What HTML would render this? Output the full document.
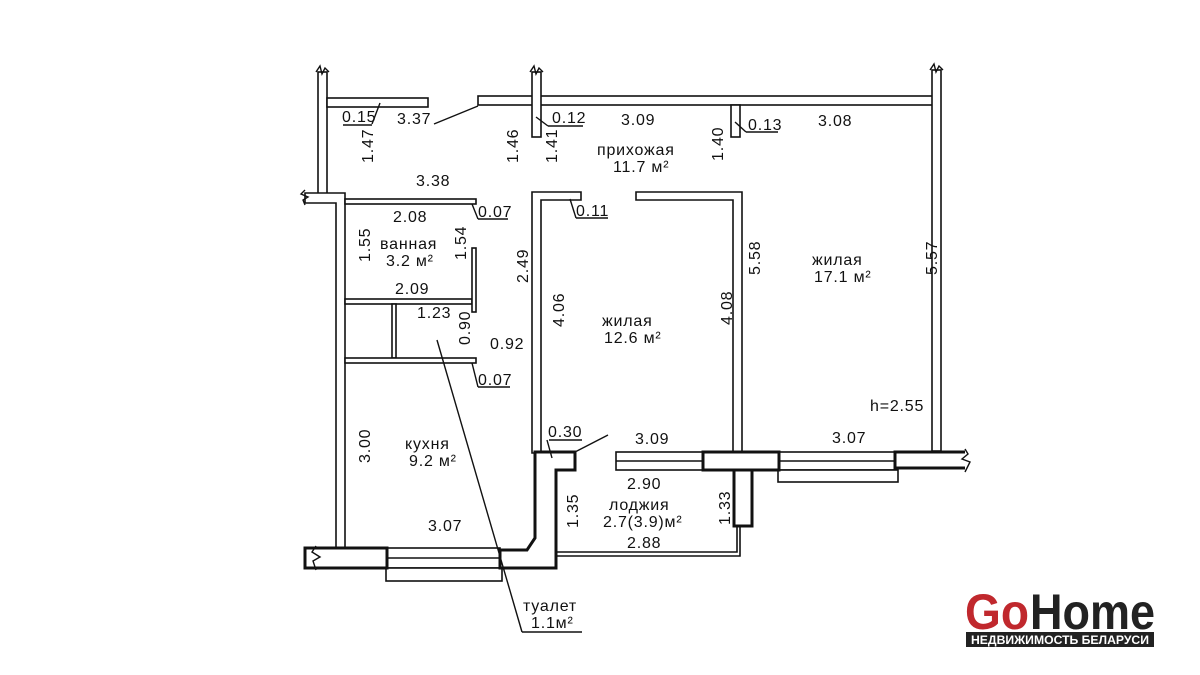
<!DOCTYPE html>
<html><head><meta charset="utf-8"><style>
html,body{margin:0;padding:0;background:#fff;}
svg{display:block;}
text{font-family:"Liberation Sans","DejaVu Sans",sans-serif;font-size:16px;fill:#111;letter-spacing:0.8px;}
</style></head><body>
<svg width="1200" height="675" viewBox="0 0 1200 675" xmlns="http://www.w3.org/2000/svg">
<g fill="#fff" stroke="#111" stroke-width="1.6">
<rect x="318" y="72" width="9" height="124"/>
<rect x="327" y="98" width="101" height="9"/>
<rect x="478" y="96" width="460" height="9"/>
<rect x="532" y="72" width="9" height="65"/>
<rect x="731" y="105" width="9" height="32"/>
<rect x="932" y="70" width="9" height="381"/>
<path d="M305 193 H345 V548 H336 V203 H305 Z"/>
<rect x="345" y="199" width="131" height="5"/>
<rect x="345" y="299" width="127" height="5"/>
<rect x="472" y="248" width="4" height="64"/>
<rect x="392" y="304" width="4" height="54"/>
<rect x="345" y="358" width="131" height="5"/>
<path d="M532 192 H581 V200 H541 V453 H532 Z"/>
<path d="M636 192 H742 V452 H733 V200 H636 Z"/>
<path d="M556 552 H737 V527" fill="none"/>
<path d="M556 556 H740 V527" fill="none"/>
<rect x="387" y="548" width="113" height="20"/>
<line x1="387" y1="558" x2="500" y2="558"/>
<rect x="386" y="568" width="116" height="13"/>
<rect x="616" y="452" width="87" height="18"/>
<line x1="616" y1="461" x2="703" y2="461"/>
<rect x="779" y="452" width="116" height="18"/>
<line x1="779" y1="461" x2="895" y2="461"/>
<rect x="778" y="470" width="120" height="12"/>
</g>
<g fill="#fff" stroke="#111" stroke-width="3">
<rect x="305" y="548" width="82" height="20"/>
<path d="M535 452 H575 V470 H556 V568 H500 V550 H527 L535 538 Z"/>
<rect x="703" y="452" width="76" height="18"/>
<rect x="734" y="470" width="18" height="56"/>
<path d="M965 452 H895 V468 H965"/>
</g>
<g fill="none" stroke="#111" stroke-width="1.4">
<path d="M316 72 L320 66 L322 74 L325 68 L329 72"/>
<path d="M530 72 L534 66 L536 74 L539 68 L543 72"/>
<path d="M930 70 L934 64 L936 72 L939 66 L943 70"/>
<path d="M305 190 L301 194 L308 197 L303 200 L305 205"/>
<path d="M316 546 L312 552 L320 557 L313 561 L316 570"/>
<path d="M965 449 L968 454 L962 459 L970 462 L965 472"/>
<line x1="380" y1="103" x2="372" y2="124"/><line x1="343" y1="125" x2="372" y2="125"/>
<line x1="434" y1="124" x2="478" y2="106"/>
<line x1="536" y1="117" x2="548" y2="126"/><line x1="548" y1="126" x2="583" y2="126"/>
<line x1="735" y1="122" x2="746" y2="132"/><line x1="746" y1="132" x2="778" y2="132"/>
<line x1="570" y1="199" x2="576" y2="218"/><line x1="576" y1="218" x2="608" y2="218"/>
<line x1="472" y1="204" x2="478" y2="219"/><line x1="478" y1="219" x2="508" y2="219"/>
<line x1="472" y1="363" x2="478" y2="387"/><line x1="478" y1="387" x2="510" y2="387"/>
<line x1="437" y1="340" x2="522" y2="632"/><line x1="522" y1="632" x2="582" y2="632"/>
<line x1="549" y1="440" x2="582" y2="440"/><line x1="547" y1="440" x2="552" y2="458"/>
<line x1="575" y1="452" x2="608" y2="435"/>
</g>
<g>
<text x="342" y="122">0.15</text>
<text x="397" y="124">3.37</text>
<text x="552" y="123">0.12</text>
<text x="621" y="125">3.09</text>
<text x="748" y="130">0.13</text>
<text x="818" y="126">3.08</text>
<text x="597" y="155">прихожая</text>
<text x="613" y="172">11.7 м²</text>
<text x="416" y="186">3.38</text>
<text x="393" y="222">2.08</text>
<text x="478" y="217">0.07</text>
<text x="576" y="216">0.11</text>
<text x="380" y="249">ванная</text>
<text x="386" y="266">3.2 м²</text>
<text x="395" y="294">2.09</text>
<text x="417" y="318">1.23</text>
<text x="490" y="349">0.92</text>
<text x="478" y="385">0.07</text>
<text x="602" y="326">жилая</text>
<text x="604" y="343">12.6 м²</text>
<text x="812" y="265">жилая</text>
<text x="814" y="282">17.1 м²</text>
<text x="870" y="411">h=2.55</text>
<text x="405" y="449">кухня</text>
<text x="409" y="466">9.2 м²</text>
<text x="548" y="437">0.30</text>
<text x="635" y="444">3.09</text>
<text x="832" y="443">3.07</text>
<text x="627" y="489">2.90</text>
<text x="609" y="510">лоджия</text>
<text x="603" y="527">2.7(3.9)м²</text>
<text x="627" y="548">2.88</text>
<text x="428" y="531">3.07</text>
<text x="523" y="611">туалет</text>
<text x="531" y="628">1.1м²</text>
<text transform="translate(373,163) rotate(-90)">1.47</text>
<text transform="translate(518,163) rotate(-90)">1.46</text>
<text transform="translate(557,163) rotate(-90)">1.41</text>
<text transform="translate(723,161) rotate(-90)">1.40</text>
<text transform="translate(370,262) rotate(-90)">1.55</text>
<text transform="translate(466,260) rotate(-90)">1.54</text>
<text transform="translate(528,283) rotate(-90)">2.49</text>
<text transform="translate(470,345) rotate(-90)">0.90</text>
<text transform="translate(564,327) rotate(-90)">4.06</text>
<text transform="translate(732,325) rotate(-90)">4.08</text>
<text transform="translate(760,275) rotate(-90)">5.58</text>
<text transform="translate(937,275) rotate(-90)">5.57</text>
<text transform="translate(370,463) rotate(-90)">3.00</text>
<text transform="translate(578,528) rotate(-90)">1.35</text>
<text transform="translate(730,525) rotate(-90)">1.33</text>
</g>
<text x="965" y="629" textLength="64" lengthAdjust="spacingAndGlyphs" style="font-size:50px;font-weight:bold;fill:#c0282d;letter-spacing:0">Go</text>
<text x="1030" y="629" textLength="125" lengthAdjust="spacingAndGlyphs" style="font-size:50px;font-weight:bold;fill:#222;letter-spacing:0">Home</text>
<rect x="966" y="632" width="188" height="15" fill="#222"/>
<text x="971" y="644" textLength="178" lengthAdjust="spacingAndGlyphs" style="font-size:11.5px;font-weight:bold;fill:#fff;letter-spacing:0">НЕДВИЖИМОСТЬ БЕЛАРУСИ</text>
</svg>
</body></html>
